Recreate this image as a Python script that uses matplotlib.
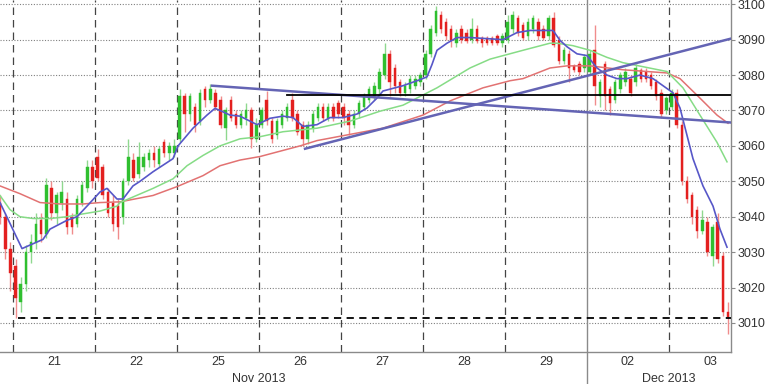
import matplotlib
matplotlib.use("Agg")
import matplotlib.pyplot as plt
import numpy as np

# ---------------- data (16 bars per trading day) ----------------
days = ["20", "21", "22", "25", "26", "27", "28", "29", "02", "03"]
bars_per_day = 16
first_bar = -3          # three bars of day 20 are partly visible

opens = [3044, 3040, 3031,
         # 21
         3026, 3016, 3021, 3030, 3033, 3039, 3035, 3048, 3041, 3044, 3045, 3040, 3038, 3044, 3048, 3054,
         # 22
         3057, 3054, 3047, 3044, 3043, 3040, 3050, 3056, 3052, 3054, 3056, 3058, 3055, 3061, 3058, 3058,
         # 25
         3062, 3074, 3069, 3071, 3067, 3076, 3073, 3075, 3073, 3065, 3073, 3069, 3066, 3068, 3070, 3062,
         # 26
         3066, 3073, 3067, 3063, 3066, 3068, 3073, 3069, 3066, 3062, 3065, 3068, 3071, 3068, 3071, 3072,
         # 27
         3071, 3069, 3066, 3069, 3071, 3073, 3074, 3076, 3080, 3086, 3082, 3078, 3075, 3076, 3077, 3078,
         # 28
         3080, 3086, 3092, 3097, 3095, 3093, 3089, 3093, 3092, 3090, 3093, 3090.5, 3090.5, 3090.5, 3091, 3089,
         # 29
         3090, 3093, 3096, 3094, 3091, 3093, 3095, 3093, 3091, 3096, 3090, 3084, 3086, 3082.5, 3083, 3082,
         # 02
         3081, 3087, 3074, 3083, 3076, 3073, 3076, 3078, 3079, 3078, 3081.5, 3081, 3080, 3078, 3075, 3070,
         # 03
         3071, 3075, 3066, 3050, 3046, 3042, 3036, 3038.5, 3029, 3038.5, 3029, 3013]
highs = [3046, 3041, 3033,
         3028, 3023, 3032, 3035, 3041, 3041, 3051, 3050, 3047, 3050, 3047, 3041, 3046, 3050, 3056, 3056,
         3059, 3055, 3048, 3046, 3045, 3051, 3062, 3058, 3061, 3058, 3059, 3060, 3060, 3062, 3061, 3062,
         3076, 3075, 3075, 3072, 3076, 3077, 3077.5, 3076, 3074, 3071, 3074, 3070, 3070, 3072, 3071, 3068,
         3071, 3075.5, 3068, 3068, 3070, 3072, 3075, 3070, 3067, 3067, 3070, 3072, 3072, 3072, 3072, 3073,
         3072, 3070, 3070, 3073, 3075, 3077, 3078, 3082, 3089, 3087, 3083, 3079, 3078, 3080, 3080, 3081,
         3087, 3094, 3099.5, 3098, 3096, 3094, 3093, 3094, 3093, 3096, 3094, 3091, 3091, 3091, 3091.5, 3092,
         3097, 3098, 3097, 3095, 3096, 3097, 3096, 3094, 3097, 3097.7, 3091, 3088, 3087, 3083, 3084, 3086,
         3087, 3094, 3079, 3084, 3077, 3079, 3081, 3082, 3080, 3083, 3082, 3082, 3081, 3079, 3076, 3074,
         3076, 3076, 3067, 3051.6, 3047, 3043, 3042, 3040, 3038, 3041, 3030, 3016]
lows = [3038, 3028, 3019,
        3011.4, 3013, 3019, 3027, 3031, 3033, 3034, 3039, 3038, 3042, 3035, 3035, 3037, 3043, 3047, 3048,
        3050, 3045, 3040, 3036, 3033.6, 3038, 3049, 3050, 3051, 3053, 3054, 3054, 3054, 3057, 3056, 3057,
        3061, 3064, 3067, 3064, 3066, 3071, 3072, 3070, 3065, 3061.6, 3067, 3065, 3065, 3066, 3059.3, 3061,
        3065, 3066, 3060.7, 3062, 3065, 3067, 3067, 3063, 3060, 3060.5, 3064, 3067, 3067, 3067, 3067, 3068,
        3066, 3063, 3065, 3068, 3070, 3072, 3073, 3074, 3079, 3074, 3075, 3074, 3074, 3075, 3076, 3077,
        3079, 3085, 3091, 3092, 3090, 3088, 3088, 3089, 3089, 3089, 3089, 3088, 3088.5, 3088.5, 3088.5, 3088,
        3089, 3092, 3091, 3090, 3090, 3092, 3090, 3090, 3090, 3088, 3083, 3083, 3078, 3081, 3080, 3081,
        3080, 3071.5, 3071, 3070, 3068.7, 3072, 3075, 3077, 3074, 3077, 3078, 3078, 3076, 3073, 3068, 3069,
        3070, 3065, 3049, 3044, 3038, 3034, 3035, 3029, 3026, 3027, 3012, 3007]
closes = [3040, 3031, 3024,
          3017, 3021, 3030, 3033, 3038, 3035, 3049, 3041, 3046, 3047, 3037, 3037, 3045, 3049, 3054, 3050,
          3051, 3046, 3041, 3038, 3037, 3050, 3057, 3051, 3057, 3057, 3058, 3056, 3059, 3058, 3060, 3060,
          3074, 3069, 3074, 3066, 3075, 3073, 3076, 3071, 3066, 3070, 3068, 3066, 3069, 3070, 3062, 3066,
          3070, 3067, 3062, 3067, 3069, 3071, 3068, 3064, 3062, 3066, 3069, 3071, 3068, 3071, 3068, 3069,
          3068, 3066, 3069, 3072, 3074, 3076, 3077, 3081, 3086, 3078, 3077, 3075, 3077, 3079, 3079, 3080,
          3086, 3093, 3098, 3093, 3091, 3089.5, 3092, 3090, 3089.5, 3093, 3089.5, 3089, 3089, 3089, 3089, 3091,
          3095, 3097, 3092, 3090.5, 3095, 3096, 3091, 3090.5, 3096, 3088.5, 3084, 3087, 3082, 3081.5, 3081, 3085,
          3086, 3077, 3078, 3074, 3072, 3078, 3080, 3081, 3075, 3082, 3079, 3079, 3077, 3074, 3069, 3073.5,
          3075, 3066, 3050, 3045, 3040, 3036, 3039, 3030, 3037, 3028, 3013, 3011.7]

# moving averages: (bar position, value)
ma_fast_x = [-3.04, 1.26, 2.82, 5.35, 6.72, 10.04, 11.99, 13.94, 16.48, 17.84, 19.79, 20.96, 22.91, 24.28,
             26.82, 30.72, 31.70, 34.62, 37.35, 38.91, 39.89, 41.84, 43.79, 47.11, 49.65, 52.18, 54.13,
             56.09, 58.82, 61.35, 63.89, 66.62, 68.57, 70.52, 71.69, 75.60, 78.91, 80.28, 81.26, 82.23,
             84.18, 86.13, 88.67, 95.11, 97.84, 100.38, 104.87, 106.23, 107.60, 109.55, 111.50, 113.45,
             115.40, 117.35, 119.30, 121.84, 124.38, 126.33, 128.28, 129.65, 131.01, 132.18, 134.13,
             136.09, 137.45, 138.82]
ma_fast_y = [3044, 3031, 3032, 3033.6, 3036.5, 3039, 3040, 3043, 3047, 3048, 3045, 3045, 3048.7, 3050,
             3052.7, 3056.4, 3060, 3065, 3068.7, 3070.6, 3070, 3068.7, 3068.4, 3066, 3067.8, 3068.4, 3068,
             3065.5, 3066, 3068, 3068, 3069, 3070.7, 3073.5, 3075.5, 3077, 3078.7, 3079.5, 3083, 3087,
             3089, 3090.6, 3090.6, 3090, 3092, 3092.6, 3092.6, 3089.8, 3088, 3086, 3085.5, 3082,
             3080, 3079, 3079, 3080, 3079, 3077, 3075, 3070.7, 3063, 3056.4, 3048.7,
             3043, 3036.5, 3031.4]
ma_mid_x = [-3.04, -1.09, 0.87, 3.40, 6.72, 10.04, 13.16, 16.48, 19.79, 20.38, 26.82, 30.72, 33.45, 36.57,
            39.89, 43.79, 47.70, 52.18, 58.82, 65.26, 71.11, 75.60, 82.23, 88.67, 92.57, 99.01, 104.28,
            105.65, 108.77, 112.09, 115.40, 118.52, 127.11, 130.23, 133.54, 136.87, 138.82]
ma_mid_y = [3046, 3042, 3040, 3039.5, 3039.5, 3040, 3040.8, 3041.6, 3043, 3044, 3048, 3050.7, 3054.4, 3057.3,
            3060, 3062, 3062.6, 3064, 3065, 3067, 3069.8, 3071.5, 3076.4, 3082, 3084.5, 3087, 3089,
            3089, 3088.3, 3087, 3085, 3083.5, 3081, 3076.4, 3068.7, 3061, 3055.5]
ma_slow_x = [-3.04, 0.87, 4.77, 8.67, 13.16, 16.48, 20.38, 26.82, 31.50, 36.57, 39.89, 43.79, 47.70, 55.50,
             58.82, 71.69, 79.50, 84.77, 91.21, 96.48, 99.01, 104.28, 107.60, 112.09, 118.52, 127.11,
             129.65, 133.54, 136.87, 139.01]
ma_slow_y = [3048.7, 3046.5, 3044, 3043.6, 3043.6, 3044, 3044.2, 3046, 3048.5, 3051.6, 3054.4, 3056, 3057, 3060,
             3061.5, 3065, 3068.7, 3072.7, 3076.4, 3078.4, 3079, 3082, 3082.6, 3082.6, 3081.5, 3080.6,
             3079, 3073.5, 3068.7, 3066.4]

# drawn trend lines: (x0, y0, x1, y1)
trend_down = (38.33, 3077.0, 139.6, 3066.6)
trend_up = (56.48, 3059.2, 139.6, 3090.3)
resistance = (52.96, 3074.5, 139.6, 3074.5)
support = (0.48, 3011.3, 139.6, 3011.3)

y_ticks = [3010, 3020, 3030, 3040, 3050, 3060, 3070, 3080, 3090, 3100]
month_labels = ["Nov 2013", "Dec 2013"]
month_label_days = ["25", "02"]   # label sits at the right-hand edge of this day

# ---------------- figure ----------------
XMIN, XMAX = -3.04, 139.6
YMIN, YMAX = 3001.8, 3101.2
fig = plt.figure(figsize=(7.68, 3.84), dpi=100)
ax = fig.add_axes([0.0, 32 / 384, 731 / 768, 352 / 384])
ax.set_xlim(XMIN, XMAX)
ax.set_ylim(YMIN, YMAX)

FONT = dict(fontsize=9, color="#333333", family="Liberation Sans")

# grid
for yv in y_ticks:
    ax.axhline(yv, color="#808080", lw=0.8, ls=(0, (1, 1.5)), zorder=0)
n_days = len(days) - 1
for k in range(n_days):
    xsep = k * bars_per_day - 0.5
    if days[k + 1] == "02":      # month boundary drawn solid below
        continue
    ax.axvline(xsep, color="#444444", lw=0.9, ls=(0, (6, 4)), zorder=0)

# candles
x = np.arange(first_bar, first_bar + len(closes))
o = np.array(opens, float); h = np.array(highs, float)
l = np.array(lows, float); c = np.array(closes, float)
up = c >= o
wick_col = np.where(up, "#8fd88f", "#f08c8c")
body_col = np.where(up, "#2fbf2f", "#e3201f")
ax.vlines(x, l, h, colors=wick_col, lw=1.0, zorder=2)
ax.bar(x, np.maximum(np.abs(c - o), 0.3), bottom=np.minimum(o, c), width=0.5,
       color=body_col, edgecolor=body_col, lw=0.3, zorder=3)

# moving averages
ax.plot(ma_slow_x, ma_slow_y, color="#e27272", lw=1.1, zorder=4)
ax.plot(ma_mid_x, ma_mid_y, color="#86dc86", lw=1.1, zorder=4)
ax.plot(ma_fast_x, ma_fast_y, color="#5757c8", lw=1.2, zorder=5)

# trend lines
for t in (trend_down, trend_up):
    ax.plot([t[0], t[2]], [t[1], t[3]], color="#6464b4", lw=1.8, zorder=6)
ax.plot([resistance[0], resistance[2]], [resistance[1], resistance[3]], color="black", lw=1.3, zorder=6)
ax.plot([support[0], support[2]], [support[1], support[3]], color="black", lw=1.3,
        ls=(0, (4, 3)), zorder=6)

# axes style
for s in ("left", "top"):
    ax.spines[s].set_visible(False)
for s in ("right", "bottom"):
    ax.spines[s].set_color("#8a8a8a")
    ax.spines[s].set_linewidth(1.0)
ax.yaxis.tick_right()
ax.set_yticks(y_ticks)
ax.set_yticklabels([str(v) for v in y_ticks], **FONT)
ax.tick_params(axis="y", length=3, width=0.8, color="#8a8a8a", pad=2)

centers = [k * bars_per_day + (bars_per_day - 1) / 2 for k in range(n_days)]
ax.set_xticks(centers)
ax.set_xticklabels(days[1:], **FONT)
ax.tick_params(axis="x", length=0, pad=3)

# month separator (runs through the label area) and month labels
msep = (days.index("02") - 1) * bars_per_day - 0.5
ax.add_line(plt.Line2D([msep, msep], [-0.1, 1.0], transform=ax.get_xaxis_transform(),
                       color="#8a8a8a", lw=1.0, clip_on=False, zorder=1))
for lab, d in zip(month_labels, month_label_days):
    xm = days.index(d) * bars_per_day - 0.5
    ax.text(xm, -0.078, lab, transform=ax.get_xaxis_transform(), ha="center", va="center", **FONT)

fig.savefig("out.png", dpi=100)
